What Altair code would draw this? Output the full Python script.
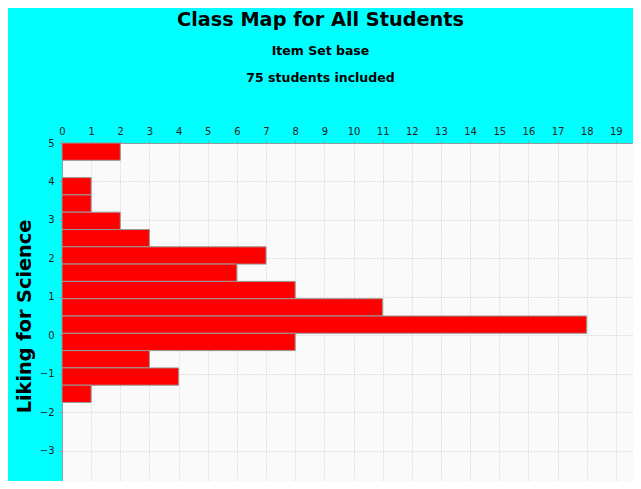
import altair as alt
import pandas as pd

# Histogram bins (measure values) and student counts
bin_top = [5.0, 4.1, 3.65, 3.2, 2.75, 2.3, 1.85, 1.4, 0.95, 0.5, 0.05, -0.4, -0.85, -1.3]
bin_bottom = [4.55, 3.65, 3.2, 2.75, 2.3, 1.85, 1.4, 0.95, 0.5, 0.05, -0.4, -0.85, -1.3, -1.75]
counts = [2, 1, 1, 2, 3, 7, 6, 8, 11, 18, 8, 3, 4, 1]

x_ticks = list(range(0, 21))
y_ticks = [5, 4, 3, 2, 1, 0, -1, -2, -3, -4]

df = pd.DataFrame({"top": bin_top, "bottom": bin_bottom, "count": counts, "zero": [0] * len(counts)})

FONT = "DejaVu Sans"

chart = (
    alt.Chart(df)
    .mark_bar(color="#FF0000", stroke="#999999", strokeWidth=1)
    .encode(
        x=alt.X(
            "count:Q",
            scale=alt.Scale(domain=[0, 20], nice=False, zero=True),
            axis=alt.Axis(
                orient="top",
                values=x_ticks,
                title=None,
                tickSize=3,
                labelPadding=4,
                labelFontSize=10,
                labelFont=FONT,
                labelColor="#222222",
                labelFlush=False,
                labelOverlap=False,
                domainColor="#999999",
                tickColor="#999999",
                grid=True,
                gridColor="#c8c8c8",
                gridDash=[1, 2],
            ),
        ),
        x2="zero:Q",
        y=alt.Y(
            "top:Q",
            scale=alt.Scale(domain=[-4, 5], nice=False, zero=False),
            axis=alt.Axis(
                values=y_ticks,
                title="Liking for Science",
                titleFont=FONT,
                titleFontSize=19.3,
                titleFontWeight="bold",
                titleColor="#000000",
                titlePadding=5,
                tickSize=3,
                labelPadding=5,
                labelFontSize=10,
                labelFont=FONT,
                labelColor="#222222",
                labelFlush=False,
                labelOverlap=False,
                domainColor="#999999",
                tickColor="#999999",
                grid=True,
                gridColor="#c8c8c8",
                gridDash=[1, 2],
            ),
        ),
        y2="bottom:Q",
    )
    .properties(
        width=583,
        height=346,
        title=alt.TitleParams(
            text="Class Map for All Students",
            subtitle=["Item Set base", "75 students included"],
            font=FONT,
            fontSize=19.3,
            fontWeight="bold",
            color="#000000",
            subtitleFont=FONT,
            subtitleFontSize=12.5,
            subtitleFontWeight="bold",
            subtitleColor="#000000",
            subtitleLineHeight=26.5,
            subtitlePadding=15,
            anchor="middle",
            dx=-33,
            offset=42,
        ),
        background="#00FFFF",
        padding={"left": 54, "top": 135, "right": -12, "bottom": -8},
        autosize=alt.AutoSizeParams(type="none"),
    )
    .configure_view(fill="#FAFAFA", stroke=None)
)

chart.save("out.html", embed_options={"renderer": "svg", "actions": False})
